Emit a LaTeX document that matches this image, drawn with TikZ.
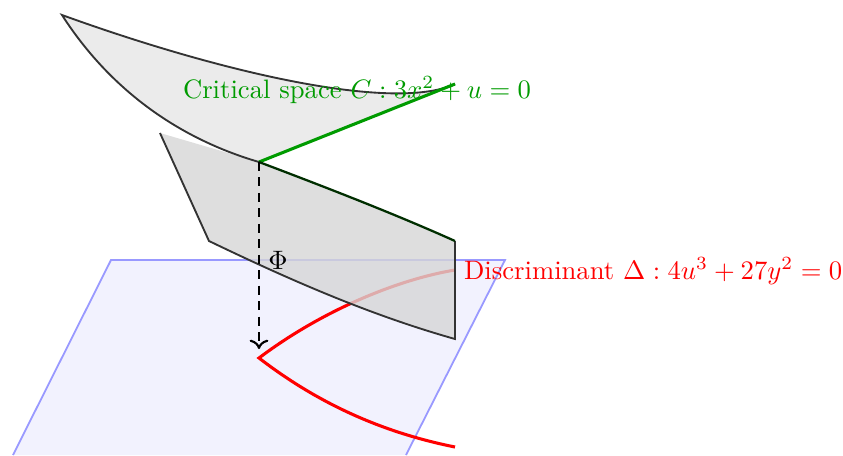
\documentclass[tikz,border=0pt]{standalone}
\usetikzlibrary{arrows.meta}
\definecolor{critgreen}{RGB}{0,155,0}
\definecolor{planefill}{RGB}{242,242,254}
\tikzset{
  rim/.style={draw=black!80,line width=1.4pt},
  fold/.style={line width=2.3pt},
  lbl/.style={inner sep=0pt,scale=2}
}
\begin{document}
\begin{tikzpicture}[x=0.75pt,y=-0.75pt]
\useasboundingbox (0,0) rectangle (843,455);
\coordinate (pa) at (111,260);
\coordinate (pb) at (505,260);
\coordinate (pc) at (406,455);
\coordinate (pd) at (13,455);
\coordinate (cusp) at (259,358);
\coordinate (redu) at (455,270);
\coordinate (redl) at (455,447);
\coordinate (top) at (259,162);
\coordinate (ul) at (62,15);
\coordinate (ur) at (455,84);
\coordinate (ll) at (160,133);
\coordinate (lm) at (209,241);
\coordinate (lb) at (455,339);
\coordinate (lr) at (455,241);
\coordinate (arrowend) at (259,349);
% plane
\fill[planefill] (pa)--(pb)--(pc)--(pd)--cycle;
\draw[blue!40,line width=1.35pt] (pd)--(pa)--(pb)--(pc);
% discriminant
\draw[red,fold] (redl) .. controls (385,433) and (320,405) .. (cusp)
  .. controls (320,312) and (395,280) .. (redu);
% lower sheet
\fill[black!16,opacity=0.8] (ll) -- (top)
  .. controls (325,187) and (395,214) .. (lr) -- (lb)
  .. controls (370,315) and (290,280) .. (lm) -- cycle;
\draw[rim] (ll) -- (lm) .. controls (290,280) and (370,315) .. (lb) -- (lr);
% upper sheet
\fill[black!8] (ul) .. controls (105,82) and (170,136) .. (top) -- (ur)
  .. controls (395,112) and (225,74) .. (ul) -- cycle;
\draw[rim] (top) .. controls (170,136) and (105,82) .. (ul)
  .. controls (225,74) and (395,112) .. (ur);
% fold line
\draw[critgreen,line width=2.3pt] (top) -- (ur);
\draw[critgreen!30!black,line width=1.7pt] (top) .. controls (325,187) and (395,214) .. (lr);
% projection
\draw[black,line width=1.4pt,dash pattern=on 6.7pt off 4.9pt,-{To[length=7pt,width=14pt,line width=1.6pt]}] (top) -- (arrowend);
\node[lbl,anchor=base] (phi) at (278,269) {$\Phi$};
\node[lbl,anchor=base west,text=critgreen] (crit) at (182.5,98) {Critical space $C: 3x^2+u=0$};
\node[lbl,anchor=base west,text=red] (disc) at (463.5,279) {Discriminant $\Delta: 4u^3+27y^2=0$};
\end{tikzpicture}
\end{document}
